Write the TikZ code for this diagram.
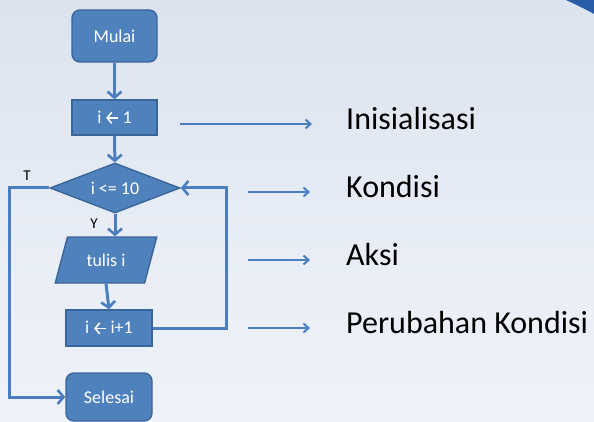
\documentclass[tikz,border=0pt]{standalone}
\usepackage{fontspec}
\setmainfont{Carlito}
\usetikzlibrary{shapes.geometric,arrows.meta,calc}
\definecolor{boxfill}{HTML}{4F81BD}
\definecolor{boxline}{HTML}{3A659A}
\definecolor{wire}{HTML}{4A7EBF}
\definecolor{bgtop}{HTML}{DBE3EE}
\definecolor{bgbot}{HTML}{EEF2FA}
\definecolor{wedge}{HTML}{2A5CA8}
\newcommand{\assignarrow}{\tikz[baseline=0pt]\draw[white, line width=1.5pt,
  -{Straight Barb[length=4.5pt,width=11pt,line width=1.5pt]}] (0.64em,0.3em) -- (0,0.3em);}
\tikzset{
  block/.style={draw=boxline, fill=boxfill, line width=1.4pt, text=white,
    font=\fontsize{18}{20}\selectfont, inner sep=0pt},
  terminal/.style={block, rounded corners=8pt},
  process/.style={block, rectangle},
  decision/.style={block, diamond, aspect=2.6},
  io/.style={block, trapezium, trapezium left angle=64, trapezium right angle=116,
    trapezium stretches=true},
  flow/.style={draw=wire, line width=3pt,
    -{Straight Barb[length=6pt,width=14pt,line width=2.6pt]}},
  pointer/.style={draw=wire, line width=2pt,
    -{Straight Barb[length=5pt,width=9pt,line width=2pt]}},
  caption/.style={anchor=base west, inner sep=0pt, text=black,
    font=\fontsize{32}{35}\selectfont},
  branch/.style={text=black, inner sep=0pt, font=\fontsize{15}{17}\selectfont}
}
\begin{document}
\begin{tikzpicture}[x=1pt,y=-1pt]
  % page background
  \shade[top color=bgtop, bottom color=bgbot, middle color=bgbot!60!bgtop]
    (0,0) rectangle (594,422);
  \useasboundingbox (0,0) rectangle (594,422);
  \fill[wedge] (566,0) -- (594,0) -- (594,14) .. controls (585,9) .. (566,0);

  % flowchart blocks
  \node[terminal, minimum width=85, minimum height=52] (mulai) at (114.5,36) {Mulai};
  \node[process, minimum width=85, minimum height=35] (init) at (114.5,117.5) {i \assignarrow{} 1};
  \node[decision, minimum width=130, minimum height=50] (dia) at (115,188) {i <= 10};
  \node[io, minimum width=102, minimum height=46] (tulis) at (106,260) {tulis i};
  \node[process, minimum width=86, minimum height=36] (inc) at (109,328) {i \assignarrow{} i+1};
  \node[terminal, minimum width=86, minimum height=48] (sel) at (109,397) {Selesai};

  % branch labels
  \node[branch] (lt) at (27,176) {T};
  \node[branch] (ly) at (94,224) {Y};

  % flow connectors
  \draw[flow] (mulai) -- (init);
  \draw[flow] (init) -- (dia);
  \draw[flow] (dia.south) -- (dia.south |- tulis.north);
  \draw[flow] (tulis.south) -- (inc.north);
  \draw[flow] (inc.east) -- ++(74,0) |- (dia.east);
  \draw[flow] (dia.west) -- ++(-40,0) |- (sel.west);

  % explanation captions
  \node[caption] (c1) at (346,130) {Inisialisasi};
  \node[caption] (c2) at (346,198) {Kondisi};
  \node[caption] (c3) at (346,265) {Aksi};
  \node[caption] (c4) at (346,333) {Perubahan Kondisi};

  \coordinate (p1s) at (180,124); \coordinate (p1e) at (312,124);
  \coordinate (p2s) at (248,192); \coordinate (p2e) at (310,192);
  \coordinate (p3s) at (248,260); \coordinate (p3e) at (310,260);
  \coordinate (p4s) at (248,328); \coordinate (p4e) at (310,328);
  \draw[pointer] (p1s) -- (p1e);
  \draw[pointer] (p2s) -- (p2e);
  \draw[pointer] (p3s) -- (p3e);
  \draw[pointer] (p4s) -- (p4e);
\end{tikzpicture}
\end{document}
